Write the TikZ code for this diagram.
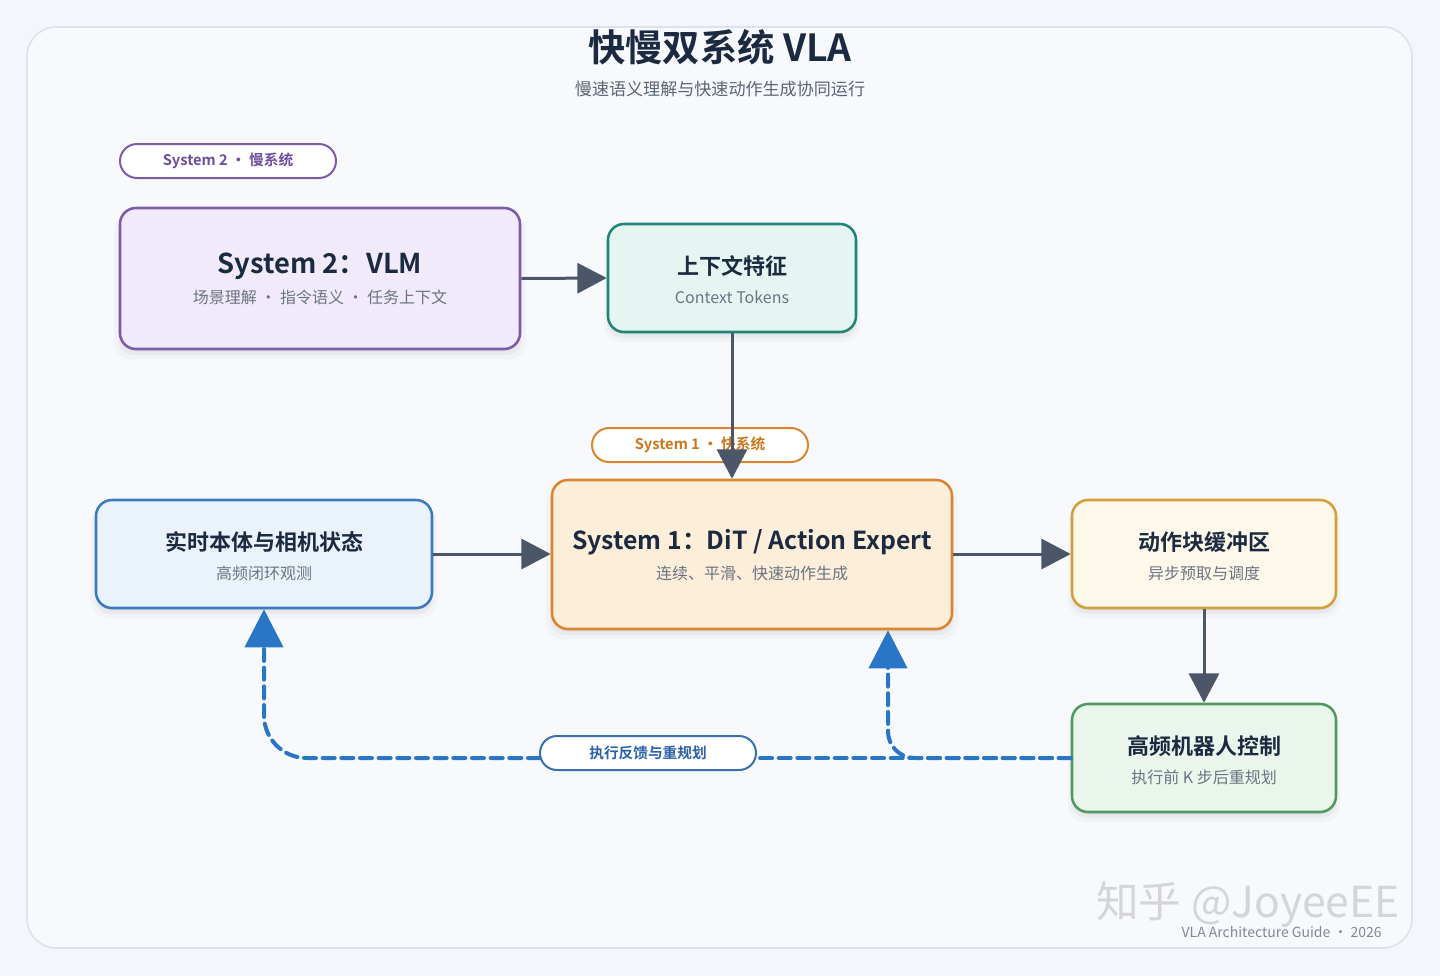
\documentclass[tikz,border=0pt]{standalone}
\usepackage{fontspec}
\setmainfont{Noto Sans CJK SC}[BoldFont={Noto Sans CJK SC Bold}]
\usetikzlibrary{arrows.meta,shadows}
\definecolor{canvas}{HTML}{F3F6FA}
\definecolor{frame}{HTML}{F7F9FC}
\definecolor{frameline}{HTML}{DDE3EA}
\definecolor{ink}{HTML}{1B2A41}
\definecolor{subink}{HTML}{5B6575}
\definecolor{noteink}{HTML}{6B7482}
\definecolor{purpleB}{HTML}{7D5BA6}
\definecolor{purpleF}{HTML}{F1EAFA}
\definecolor{purpleT}{HTML}{6D4DA0}
\definecolor{tealB}{HTML}{1E8577}
\definecolor{tealF}{HTML}{E5F6F2}
\definecolor{orangeB}{HTML}{D9862E}
\definecolor{orangeF}{HTML}{FDEEDA}
\definecolor{orangeT}{HTML}{C9781C}
\definecolor{blueB}{HTML}{3A7BC0}
\definecolor{blueF}{HTML}{EAF3FC}
\definecolor{goldB}{HTML}{D1A03A}
\definecolor{goldF}{HTML}{FEF8EA}
\definecolor{greenB}{HTML}{4F9A60}
\definecolor{greenF}{HTML}{EAF6EC}
\definecolor{fbblue}{HTML}{2A76C6}
\definecolor{fbpill}{HTML}{3A6FB0}
\definecolor{fbtext}{HTML}{2A63A8}
\definecolor{slate}{HTML}{4B5668}
\begin{document}
\begin{tikzpicture}[x=0.75pt,y=-0.75pt,
  box/.style={draw, line width=1.9pt, rounded corners=12pt, inner sep=0pt,
    general shadow={fill=black, opacity=0.025, shadow yshift=-6pt, shadow xshift=0pt, shadow scale=1.03},
    general shadow={fill=black, opacity=0.035, shadow yshift=-4pt, shadow xshift=0pt, shadow scale=1.01},
    general shadow={fill=black, opacity=0.04, shadow yshift=-2pt, shadow xshift=0pt}},
  pill/.style={draw, line width=1.5pt, fill=white, rounded corners=12.75pt, inner sep=0pt,
    minimum width=162pt, minimum height=25.5pt, font=\fontsize{11}{13}\selectfont\bfseries},
  ttl/.style={text=ink, font=\fontsize{16.5}{19}\selectfont\bfseries, inner sep=0pt},
  bigttl/.style={text=ink, font=\fontsize{20.5}{24}\selectfont\bfseries, inner sep=0pt},
  sub/.style={text=noteink, font=\fontsize{12}{14}\selectfont, inner sep=0pt},
  flow/.style={draw=slate, line width=2.25pt, -{Triangle[width=22.5pt,length=22pt]}},
  fb/.style={draw=fbblue, line width=3pt, dash pattern=on 9pt off 5pt, line cap=round},
  fbarrow/.style={fb, -{Triangle[width=28.5pt,length=28.5pt]}},
]
\useasboundingbox (0,0) rectangle (1440,976);
\fill[canvas] (0,0) rectangle (1440,976);
\draw[fill=frame, draw=frameline, line width=1.2pt, rounded corners=22pt] (27,27) rectangle (1412,948);

% titles
\node[text=ink, font=\fontsize{28}{32}\selectfont\bfseries, inner sep=0pt] (title) at (720,47) {快慢双系统 VLA};
\node[text=subink, font=\fontsize{12.8}{15}\selectfont, inner sep=0pt] (subtitle) at (720,89) {慢速语义理解与快速动作生成协同运行};

% boxes
\node[box, draw=purpleB, fill=purpleF, minimum width=300pt, minimum height=105.75pt] (s2) at (320,278.5) {};
\node[bigttl] (s2t) at (320,266) {System 2：VLM};
\node[sub] (s2s) at (320,297) {场景理解 · 指令语义 · 任务上下文};

\node[box, draw=tealB, fill=tealF, minimum width=186pt, minimum height=81pt] (ctx) at (732,278) {};
\node[ttl] (ctxt) at (732,266) {上下文特征};
\node[sub] (ctxs) at (732,297) {Context Tokens};

\node[box, draw=orangeB, fill=orangeF, minimum width=300pt, minimum height=111.75pt] (s1) at (752,554.5) {};
\node[bigttl, font=\fontsize{18.6}{22}\selectfont\bfseries] (s1t) at (752,542) {System 1：DiT / Action Expert};
\node[sub] (s1s) at (752,573) {连续、平滑、快速动作生成};

\node[box, draw=blueB, fill=blueF, minimum width=252pt, minimum height=81pt] (obs) at (264,554) {};
\node[ttl] (obst) at (264,542) {实时本体与相机状态};
\node[sub] (obss) at (264,573) {高频闭环观测};

\node[box, draw=goldB, fill=goldF, minimum width=198pt, minimum height=81pt] (buf) at (1204,554) {};
\node[ttl] (buft) at (1204,542) {动作块缓冲区};
\node[sub] (bufs) at (1204,573) {异步预取与调度};

\node[box, draw=greenB, fill=greenF, minimum width=198pt, minimum height=81pt] (ctrl) at (1204,758) {};
\node[ttl] (ctrlt) at (1204,746) {高频机器人控制};
\node[sub] (ctrls) at (1204,777) {执行前 K 步后重规划};

% pills
\node[pill, draw=purpleB, text=purpleT] (p2) at (228,161) {System 2 · 慢系统};
\node[pill, draw=orangeB, text=orangeT] (p1) at (700,445) {System 1 · 快系统};

% solid flows
\draw[flow] (s2.east) -- (ctx.west);
\draw[flow] (ctx.south) -- (ctx.south |- s1.north);
\draw[flow] (obs.east) -- (obs.east -| s1.west);
\draw[flow] (s1.east |- buf.west) -- (buf.west);
\draw[flow] (buf.south) -- (ctrl.north);

% feedback
\coordinate (k1) at (888,758);
\coordinate (k2) at (264,758);
\coordinate (pfe) at (756,758);
\coordinate (pfw) at (540,758);
\draw[fb] (ctrl.west) -- (pfe);
\draw[fbarrow, rounded corners=20pt] (ctrl.west) -- (k1) -- (k1 |- s1.south);
\draw[fbarrow, rounded corners=32pt] (pfw) -- (k2) -- (obs.south);
\node[pill, draw=fbpill, text=fbtext] (pf) at (648,753) {执行反馈与重规划};

% footer and watermark
\node[text=gray!40, opacity=0.8, font=\fontsize{32}{35}\selectfont, inner sep=0pt] (wm) at (1248,905) {知乎 @JoyeeEE};
\node[text=noteink!85, font=\fontsize{10.5}{12}\selectfont, inner sep=0pt, anchor=east] (foot) at (1382,932) {VLA Architecture Guide · 2026};
\end{tikzpicture}
\end{document}
